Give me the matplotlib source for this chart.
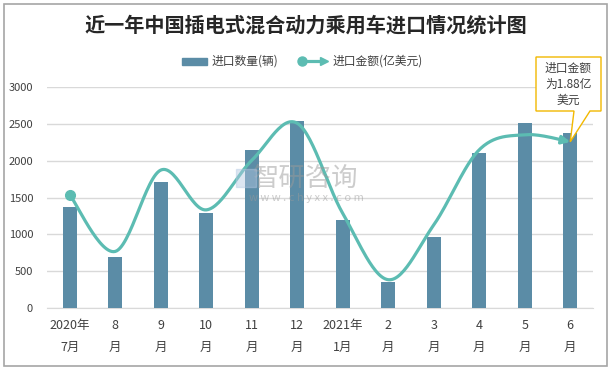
import matplotlib.pyplot as plt
from matplotlib.patches import Rectangle, Polygon
from matplotlib.lines import Line2D
import numpy as np

plt.rcParams['font.family'] = ['Noto Sans CJK SC', 'DejaVu Sans']

months = ['2020年\n7月', '8\n月', '9\n月', '10\n月', '11\n月', '12\n月',
          '2021年\n1月', '2\n月', '3\n月', '4\n月', '5\n月', '6\n月']
qty = [1370, 692, 1710, 1290, 2145, 2540, 1195, 355, 965, 2105, 2510, 2375]
amount = [1.28, 0.64, 1.56, 1.11, 1.67, 2.09, 1.07, 0.32, 0.94, 1.79, 1.96, 1.88]

bar_c = '#5b8ca6'
line_c = '#5cbcb2'
W, H = 611, 369


def smooth(xs, ys, n=30):
	# excel style smoothed line (bezier through the points)
	xs = np.asarray(xs, float)
	ys = np.asarray(ys, float)
	px = np.concatenate([[xs[0]], xs, [xs[-1]]])
	py = np.concatenate([[ys[0]], ys, [ys[-1]]])
	out_x, out_y = [], []
	t = np.linspace(0, 1, n)
	for i in range(1, len(px) - 2):
		p0 = np.array([px[i], py[i]])
		p3 = np.array([px[i + 1], py[i + 1]])
		p1 = p0 + (p3 - np.array([px[i - 1], py[i - 1]])) / 6
		p2 = p3 - (np.array([px[i + 2], py[i + 2]]) - p0) / 6
		b = ((1 - t) ** 3)[:, None] * p0 + (3 * (1 - t) ** 2 * t)[:, None] * p1 \
			+ (3 * (1 - t) * t ** 2)[:, None] * p2 + (t ** 3)[:, None] * p3
		out_x.extend(b[:, 0])
		out_y.extend(b[:, 1])
	return np.array(out_x), np.array(out_y)


fig = plt.figure(figsize=(W / 100, H / 100), dpi=100)
fig.patches.append(Rectangle((4 / W, 3 / H), 603 / W, 362 / H, transform=fig.transFigure,
                             fill=False, edgecolor='#a6a6a6', lw=1.2))

ax = fig.add_axes([47 / W, (H - 308) / H, 546 / W, 221 / H])
x = np.arange(len(months))
ax.bar(x, qty, width=0.31, color=bar_c, zorder=3)
ax.set_xlim(-0.5, len(months) - 0.5)
ax.set_ylim(0, 3000)
ax.set_yticks(range(0, 3001, 500))
ax.grid(axis='y', color='#d9d9d9', lw=1, zorder=0)
for s in ['top', 'right', 'left']:
	ax.spines[s].set_visible(False)
ax.spines['bottom'].set_color('#d9d9d9')
ax.tick_params(axis='both', length=0, labelsize=8, colors='#404040')
ax.tick_params(axis='y', pad=10)
ax.set_xticks(x)
ax.set_xticklabels(months, linespacing=1.9, fontsize=9)
ax.tick_params(axis='x', pad=8)

ax2 = ax.twinx()
ax2.set_ylim(0, 2.5)
ax2.axis('off')
sx, sy = smooth(x, amount)
ax2.plot(sx[:-4], sy[:-4], color=line_c, lw=2.3, solid_capstyle='round', zorder=4)
ax2.plot(x[0], amount[0], 'o', color=line_c, ms=7, zorder=5)
ax2.annotate('', xy=(sx[-1], sy[-1]), xytext=(sx[-6], sy[-6]),
             arrowprops=dict(arrowstyle='-|>', color=line_c, lw=2.3, mutation_scale=12,
                             shrinkA=0, shrinkB=0), zorder=5)

# watermark
fig.text(306 / W, 1 - 178 / H, '智研咨询', fontsize=19, color='#9a9a9a', alpha=0.5,
         ha='center', va='center')
fig.text(306 / W, 1 - 198 / H, 'w w w . c h y x x . c o m', fontsize=8, color='#9a9a9a',
         alpha=0.5, ha='center', va='center')
fig.patches.append(Rectangle((236 / W, 1 - 187 / H), 20 / W, 18 / H, transform=fig.transFigure,
                             color='#b4c8e2', alpha=0.45, zorder=6))

# title
fig.text(0.5, 1 - 25 / H, '近一年中国插电式混合动力乘用车进口情况统计图', fontsize=14.5,
         fontweight='bold', color='#262626', ha='center', va='center')

# legend drawn by hand
ly = 1 - 61 / H
fig.patches.append(Rectangle((182 / W, ly - 3.5 / H), 25 / W, 7 / H, transform=fig.transFigure,
                             color=bar_c))
fig.text(212 / W, ly, '进口数量(辆)', fontsize=8.5, color='#404040', va='center')
fig.lines.append(Line2D([301 / W, 318 / W], [ly, ly], transform=fig.transFigure,
                        color=line_c, lw=2.3, marker=None))
fig.lines.append(Line2D([302 / W], [ly], transform=fig.transFigure, color=line_c,
                        marker='o', ms=6.5))
fig.lines.append(Line2D([324 / W], [ly], transform=fig.transFigure, color=line_c,
                        marker='>', ms=6))
fig.text(333 / W, ly, '进口金额(亿美元)', fontsize=8.5, color='#404040', va='center')

# callout for the last point
fig.canvas.draw()
tip = ax2.transData.transform((x[-1], amount[-1]))
tx, ty = tip[0] / W, tip[1] / H
top, bot, l, r = 1 - 57 / H, 1 - 111 / H, 536 / W, 601 / W
verts = [(l, top), (r, top), (r, bot), (590 / W, bot), (tx, ty), (574 / W, bot), (l, bot)]
fig.patches.append(Polygon(verts, closed=True, transform=fig.transFigure, facecolor='white',
                           edgecolor='#f2b800', lw=1, zorder=7))
fig.text((l + r) / 2, (top + bot) / 2, '进口金额\n为1.88亿\n美元', fontsize=8.5, color='#404040',
         ha='center', va='center', linespacing=1.3, zorder=8)

fig.savefig('out.png', dpi=100)
